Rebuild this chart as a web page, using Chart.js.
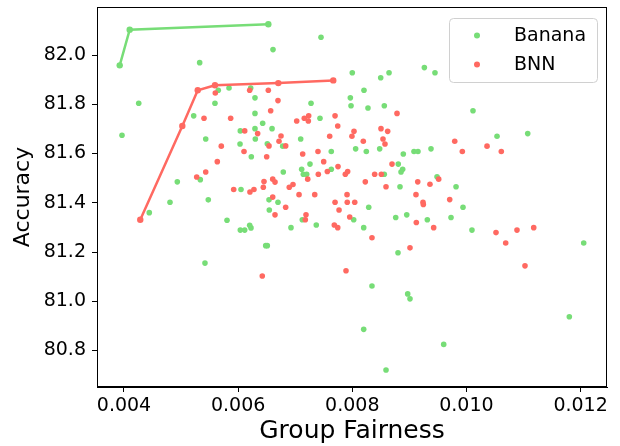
<!DOCTYPE html>
<html>
<head>
<meta charset="utf-8">
<script src="https://cdn.jsdelivr.net/npm/chart.js@4/dist/chart.umd.min.js"></script>
<style>
  html, body { margin: 0; padding: 0; background: #fff; }
  #wrap { width: 620px; height: 446px; }
</style>
</head>
<body>
<div id="wrap"><canvas id="chart" width="620" height="446"></canvas></div>
<script>
// series values
const bananaX = [0.005326, 0.004258, 0.003965, 0.005221, 0.005594, 0.005652, 0.00584, 0.00622, 0.006295, 0.006295,
    0.00643, 0.006038, 0.006295, 0.007452, 0.006611, 0.008, 0.008498, 0.008644, 0.009263, 0.009449,
    0.008205, 0.007966, 0.007978, 0.008275, 0.008561, 0.007277, 0.007434, 0.006594, 0.007096, 0.006511,
    0.006781, 0.007632, 0.008059, 0.008246, 0.00848, 0.008894, 0.009081, 0.009151, 0.009379, 0.007259,
    0.007113, 0.007142, 0.007201, 0.007632, 0.006791, 0.008806, 0.008883, 0.008854, 0.008561, 0.008836,
    0.006541, 0.006698, 0.006546, 0.008288, 0.007124, 0.008025, 0.007369, 0.0082, 0.006926, 0.008761,
    0.008954, 0.009315, 0.006511, 0.008801, 0.010115, 0.010536, 0.011074, 0.009485, 0.009818, 0.00994,
    0.00973, 0.010097, 0.012055, 0.005432, 0.006033, 0.006301, 0.006231, 0.005337, 0.004934, 0.004806,
    0.004443, 0.005477, 0.00605, 0.005805, 0.006038, 0.006115, 0.006202, 0.006225, 0.006483, 0.005419,
    0.008345, 0.008971, 0.009011, 0.0082, 0.009602, 0.008591, 0.011803];
const bananaY = [81.969, 81.804, 81.674, 81.753, 81.804, 81.857, 81.866, 81.866, 81.826, 81.763,
    81.723, 81.692, 81.701, 82.072, 82.022, 81.928, 81.908, 81.928, 81.949, 81.928,
    81.857, 81.826, 81.794, 81.785, 81.794, 81.804, 81.743, 81.701, 81.659, 81.640,
    81.630, 81.608, 81.619, 81.608, 81.619, 81.598, 81.608, 81.608, 81.619, 81.557,
    81.536, 81.516, 81.516, 81.536, 81.525, 81.557, 81.536, 81.525, 81.516, 81.465,
    81.412, 81.402, 81.371, 81.382, 81.331, 81.331, 81.310, 81.299, 81.299, 81.340,
    81.351, 81.331, 81.226, 81.197, 81.774, 81.670, 81.681, 81.506, 81.465, 81.382,
    81.340, 81.289, 81.237, 81.659, 81.639, 81.659, 81.587, 81.494, 81.485, 81.402,
    81.360, 81.412, 81.454, 81.329, 81.289, 81.289, 81.309, 81.298, 81.226, 81.155,
    81.062, 81.030, 81.010, 80.886, 80.825, 80.721, 80.937];

const bnnX = [0.0056, 0.005402, 0.005869, 0.006202, 0.006115, 0.006342, 0.006529, 0.006698, 0.00657, 0.007026,
    0.007159, 0.007236, 0.00723, 0.007698, 0.007745, 0.008784, 0.008503, 0.00862, 0.00803, 0.006751,
    0.006541, 0.006716, 0.006833, 0.0065, 0.007131, 0.007399, 0.007604, 0.007994, 0.008193, 0.008538,
    0.008573, 0.007499, 0.00775, 0.007405, 0.007563, 0.007878, 0.007919, 0.007219, 0.008392, 0.008509,
    0.008696, 0.006453, 0.006441, 0.006606, 0.006646, 0.006896, 0.006961, 0.007067, 0.007342, 0.006606,
    0.006833, 0.006646, 0.008228, 0.008591, 0.007908, 0.007698, 0.007912, 0.008043, 0.007768, 0.007189,
    0.007177, 0.007955, 0.007685, 0.007745, 0.008345, 0.009147, 0.009361, 0.009116, 0.009239, 0.009245,
    0.009122, 0.009426, 0.009011, 0.009795, 0.009928, 0.010361, 0.010611, 0.009514, 0.009707, 0.010518,
    0.010688, 0.010886, 0.011179, 0.005705, 0.006103, 0.005635, 0.005432, 0.005274, 0.005922, 0.006207,
    0.006277, 0.006423, 0.00789, 0.011026];
const bnnY = [81.846, 81.743, 81.743, 81.857, 81.692, 81.681, 81.857, 81.815, 81.774, 81.732,
    81.743, 81.753, 81.732, 81.753, 81.712, 81.763, 81.701, 81.690, 81.690, 81.671,
    81.631, 81.650, 81.631, 81.587, 81.598, 81.608, 81.670, 81.670, 81.650, 81.659,
    81.639, 81.567, 81.547, 81.516, 81.527, 81.516, 81.527, 81.496, 81.516, 81.516,
    81.557, 81.486, 81.463, 81.496, 81.484, 81.463, 81.474, 81.433, 81.433, 81.423,
    81.382, 81.351, 81.485, 81.465, 81.433, 81.402, 81.402, 81.402, 81.371, 81.351,
    81.331, 81.342, 81.310, 81.299, 81.258, 81.485, 81.475, 81.433, 81.402, 81.393,
    81.320, 81.299, 81.217, 81.650, 81.608, 81.630, 81.608, 81.496, 81.413, 81.279,
    81.237, 81.289, 81.299, 81.630, 81.608, 81.567, 81.525, 81.505, 81.454, 81.444,
    81.454, 81.103, 81.124, 81.144];

// pareto fronts
const bananaFrontX = [0.003925, 0.0041, 0.006529];
const bananaFrontY = [81.958, 82.103, 82.125];
const bnnFrontX = [0.004285, 0.005022, 0.005292, 0.005594, 0.006704, 0.007667];
const bnnFrontY = [81.331, 81.712, 81.857, 81.877, 81.886, 81.897];

const xTicks = [0.004, 0.006, 0.008, 0.010, 0.012];
const yTicks = [80.8, 81.0, 81.2, 81.4, 81.6, 81.8, 82.0];

const GREEN = '#77dd77';
const RED = '#ff6961';
const FONT = "'DejaVu Sans', sans-serif";

const toPoints = (xs, ys) => xs.map((x, i) => ({ x: x, y: ys[i] }));

const frameBox = {
    id: 'frameBox',
    afterDraw(chart) {
        const { ctx, chartArea: a } = chart;
        ctx.save();
        ctx.strokeStyle = '#000';
        ctx.lineWidth = 1;
        ctx.strokeRect(a.left + 0.5, a.top + 0.5, a.right - a.left - 1, a.bottom - a.top - 1);

        // legend, drawn inside the plot
        const bx = 449, by = 18, bw = 148, bh = 64, r = 4;
        ctx.fillStyle = 'rgba(255,255,255,0.8)';
        ctx.strokeStyle = '#d0d0d0';
        ctx.beginPath();
        ctx.roundRect(bx + 0.5, by + 0.5, bw, bh, r);
        ctx.fill();
        ctx.stroke();
        const items = [['Banana', GREEN], ['BNN', RED]];
        ctx.font = '19px ' + FONT;
        ctx.textBaseline = 'middle';
        items.forEach(([label, color], i) => {
            const cy = by + 17.5 + i * 29;
            ctx.fillStyle = color;
            ctx.beginPath();
            ctx.arc(477, cy, 3, 0, Math.PI * 2);
            ctx.fill();
            ctx.fillStyle = '#000';
            ctx.fillText(label, 514, cy + 1);
        });
        ctx.restore();
    }
};

new Chart(document.getElementById('chart'), {
    type: 'scatter',
    data: {
        datasets: [
            {
                label: 'Banana front',
                data: toPoints(bananaFrontX, bananaFrontY),
                showLine: true,
                borderColor: GREEN,
                backgroundColor: GREEN,
                borderWidth: 2.5,
                pointRadius: 3.2,
                pointBorderWidth: 0,
                order: 0
            },
            {
                label: 'BNN front',
                data: toPoints(bnnFrontX, bnnFrontY),
                showLine: true,
                borderColor: RED,
                backgroundColor: RED,
                borderWidth: 2.5,
                pointRadius: 3.2,
                pointBorderWidth: 0,
                order: 0
            },
            {
                label: 'BNN',
                data: toPoints(bnnX, bnnY),
                backgroundColor: RED,
                borderWidth: 0,
                pointRadius: 2.8,
                order: 1
            },
            {
                label: 'Banana',
                data: toPoints(bananaX, bananaY),
                backgroundColor: GREEN,
                borderWidth: 0,
                pointRadius: 2.8,
                order: 2
            }
        ]
    },
    plugins: [frameBox],
    options: {
        responsive: false,
        animation: false,
        layout: { padding: { top: 7, right: 13, left: 0, bottom: 0 } },
        plugins: {
            legend: { display: false },
            tooltip: { enabled: false }
        },
        scales: {
            x: {
                type: 'linear',
                min: 0.003527,
                max: 0.012463,
                afterBuildTicks: (scale) => { scale.ticks = xTicks.map(v => ({ value: v })); },
                afterFit: (scale) => {
                    scale.height = 59;
                    scale.paddingLeft = 0;
                    scale.paddingRight = 0;
                },
                grid: { drawOnChartArea: false, drawTicks: true, tickLength: 5, color: '#000' },
                border: { display: true, color: '#000', width: 1 },
                ticks: {
                    color: '#000',
                    padding: 3,
                    maxRotation: 0,
                    font: { family: FONT, size: 19 },
                    callback: (v) => v.toFixed(3)
                },
                title: {
                    display: true,
                    text: 'Group Fairness',
                    color: '#000',
                    padding: { top: 0, bottom: 0 },
                    font: { family: FONT, size: 25 }
                }
            },
            y: {
                type: 'linear',
                min: 80.652,
                max: 82.195,
                afterBuildTicks: (scale) => { scale.ticks = yTicks.map(v => ({ value: v })); },
                afterFit: (scale) => {
                    scale.width = 97;
                    scale.paddingTop = 0;
                    scale.paddingBottom = 0;
                },
                grid: { drawOnChartArea: false, drawTicks: true, tickLength: 5, color: '#000' },
                border: { display: true, color: '#000', width: 1 },
                ticks: {
                    color: '#000',
                    padding: 6,
                    font: { family: FONT, size: 19 },
                    callback: (v) => v.toFixed(1)
                },
                title: {
                    display: true,
                    text: 'Accuracy',
                    color: '#000',
                    padding: { top: 10, bottom: 4 },
                    font: { family: FONT, size: 22 }
                }
            }
        }
    }
});
</script>
</body>
</html>
